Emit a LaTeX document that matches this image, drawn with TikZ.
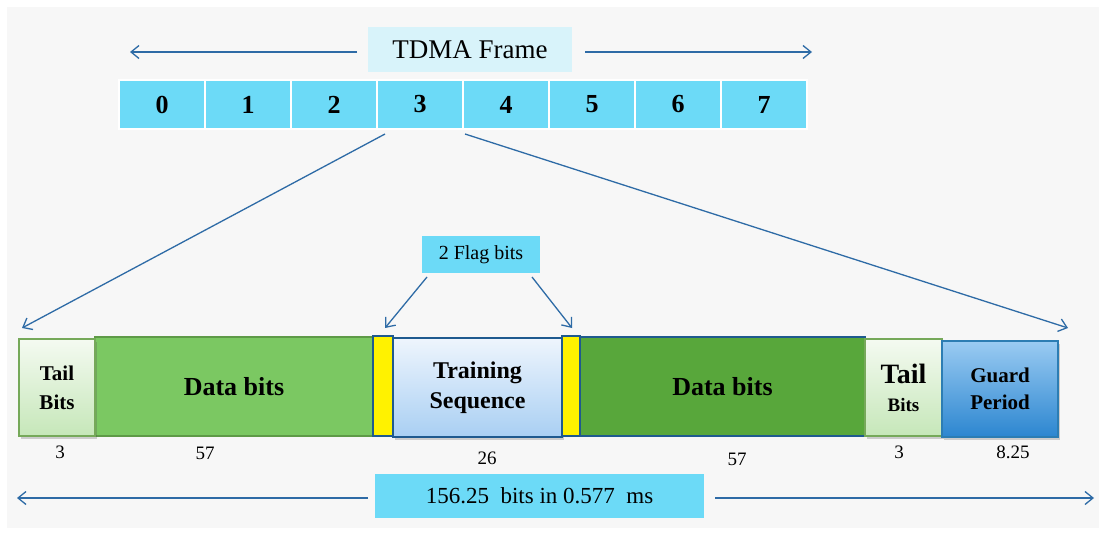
\documentclass[tikz,border=0pt]{standalone}
\usepackage{fontspec}
\setmainfont{Liberation Serif}
\usetikzlibrary{arrows.meta,shadows,calc}

\definecolor{slotblue}{HTML}{6CDAF7}
\definecolor{framebg}{HTML}{D8F3FA}
\definecolor{arrowblue}{HTML}{2E6BA6}
\definecolor{greenA}{HTML}{7BC862}
\definecolor{greenAedge}{HTML}{5E9A47}
\definecolor{greenB}{HTML}{58A73B}
\definecolor{navy}{HTML}{1F5A8F}
\definecolor{tailtop}{HTML}{F4FAF1}
\definecolor{tailbot}{HTML}{C6E7B9}
\definecolor{tailedge}{HTML}{76A95A}
\definecolor{traintop}{HTML}{EEF5FD}
\definecolor{trainbot}{HTML}{A9CFF3}
\definecolor{guardtop}{HTML}{9ACBF2}
\definecolor{guardbot}{HTML}{2C86D0}
\definecolor{guardedge}{HTML}{2C7DB3}
\definecolor{canvas}{HTML}{F7F7F7}

\tikzset{
  cell/.style={rectangle, inner sep=0pt, outer sep=0pt, align=center},
  slotbox/.style={cell, fill=slotblue, draw=white, line width=1.2pt,
    minimum width=86pt, minimum height=49pt, font=\fontsize{26}{28}\selectfont\bfseries},
  labelbox/.style={cell, fill=slotblue},
  arr/.style={draw=arrowblue, line width=1.3pt,
    -{Straight Barb[length=8pt,width=13pt,line width=1.3pt]}},
  boxshadow/.style={drop shadow={shadow xshift=1.5pt, shadow yshift=-3pt,
    opacity=0.25, fill=black!70}},
  tailbox/.style={cell, draw=tailedge, line width=1.2pt,
    top color=tailtop, bottom color=tailbot, boxshadow},
  flagbox/.style={cell, fill=yellow, draw=navy, line width=2.5pt,
    minimum width=20pt, minimum height=100pt},
  num/.style={font=\fontsize{19}{21}\selectfont, inner sep=0pt},
}

\begin{document}
\begin{tikzpicture}[x=1pt, y=-1pt]
  % page and canvas
  \fill[white] (0,0) rectangle (1105,533);
  \fill[canvas] (7,7) rectangle (1099,528);
  \useasboundingbox (0,0) rectangle (1105,533);

  % ---- TDMA frame with its eight time slots ----
  \node[cell, fill=framebg, minimum width=204pt, minimum height=45pt,
        font=\fontsize{27}{29}\selectfont] (frame) at (470,49.5) {TDMA Frame};
  \coordinate (frameL) at (130,52);
  \coordinate (frameR) at (812,52);
  \draw[arr] ([xshift=-11pt,yshift=-2.5pt]frame.west) -- (frameL);
  \draw[arr] ([xshift=13pt,yshift=-2.5pt]frame.east) -- (frameR);

  \foreach \i in {0,...,7}{
    \node[slotbox] (slot\i) at ({162+86*\i},104.5) {\i};
  }

  % ---- normal burst ----
  \node[cell, fill=greenA, draw=greenAedge, line width=2pt,
        minimum width=278pt, minimum height=99pt,
        font=\fontsize{26}{28}\selectfont\bfseries] (data1) at (234,386.5) {Data bits};
  \node[cell, fill=greenB, draw=navy, line width=2.5pt,
        minimum width=285pt, minimum height=99pt,
        font=\fontsize{26}{28}\selectfont\bfseries] (data2) at (722.5,386.5) {Data bits};

  \node[tailbox, minimum width=76pt, minimum height=97pt,
        font=\fontsize{21}{29}\selectfont\bfseries] (tail1) at (57,387.5) {Tail\\Bits};

  \node[cell, draw=navy, line width=1.3pt, top color=traintop, bottom color=trainbot,
        minimum width=169pt, minimum height=99pt, boxshadow,
        font=\fontsize{24}{30}\selectfont\bfseries] (train) at (477.5,387.5) {Training\\Sequence};

  \node[flagbox] (flag1) at (383,386) {};
  \node[flagbox, minimum width=18pt] (flag2) at (571,386) {};

  \node[tailbox, minimum width=77pt, minimum height=97pt,
        font=\fontsize{19}{28}\selectfont\bfseries] (tail2) at (903.5,387.5)
        {{\fontsize{28}{28}\selectfont Tail}\\Bits};

  \node[cell, draw=guardedge, line width=1.3pt, top color=guardtop, bottom color=guardbot,
        minimum width=116pt, minimum height=96pt, boxshadow,
        font=\fontsize{21}{27}\selectfont\bfseries] (guard) at (1000,389) {Guard\\Period};

  % field lengths in bits
  \node[num] (n1) at (60,452) {3};
  \node[num] (n2) at (205,453) {57};
  \node[num] (n3) at (487,458) {26};
  \node[num] (n4) at (737,459) {57};
  \node[num] (n5) at (899,452) {3};
  \node[num] (n6) at (1013,452) {8.25};

  % ---- slot 3 expanded into the burst ----
  \draw[arr] ($(slot3.south west)+(8,5)$) -- ($(tail1.north west)+(3,-11)$);
  \draw[arr] ($(slot3.south east)+(2,5)$) -- ($(guard.north east)+(10,-13)$);

  % ---- flag bits callout ----
  \node[labelbox, minimum width=118pt, minimum height=37pt,
        font=\fontsize{20}{22}\selectfont] (flags) at (481,254.5) {2 Flag bits};
  \draw[arr] ($(flags.south west)+(5,4)$) -- ($(flag1.north)+(2,-8)$);
  \draw[arr] ($(flags.south east)+(-8,4)$) -- ($(flag2.north)+(1,-8)$);

  % ---- burst duration ----
  \node[labelbox, minimum width=329pt, minimum height=44pt,
        font=\fontsize{23}{25}\selectfont] (dur) at (539.5,496) {156.25\enspace bits in 0.577\enspace ms};
  \coordinate (durL) at (17,498);
  \coordinate (durR) at (1094,498);
  \draw[arr] ([xshift=-7pt,yshift=-2pt]dur.west) -- (durL);
  \draw[arr] ([xshift=11pt,yshift=-2pt]dur.east) -- (durR);
\end{tikzpicture}
\end{document}
